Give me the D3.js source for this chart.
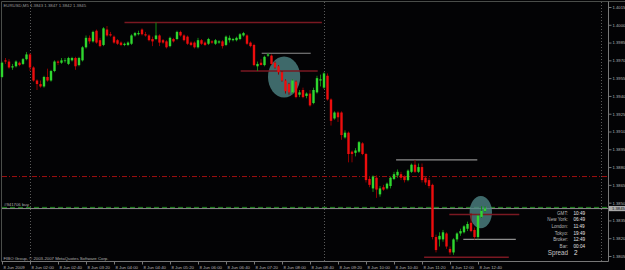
<!DOCTYPE html>
<html>
  <head>
    <style>
      body { margin: 0; background: #000; }
      svg { display: block; }
      text { font-family: "Liberation Sans", Arial, sans-serif; }
    </style>
  </head>

  <body>

    <svg class="surface" width="625" height="270"></svg>

    <script src="https://cdn.jsdelivr.net/npm/d3@7/dist/d3.min.js" charset="utf-8"></script>
    <script>

      // EURUSD M5, 8 Jun 2009, bars from 01:20
      const opens = [
        1.3956,1.3970,1.3969,1.3964,1.3965,1.3968,1.3967,1.3971,1.3975,1.3964,
        1.3953,1.3950,1.3948,1.3956,1.3953,1.3961,1.3969,1.3968,1.3970,1.3967,
        1.3970,1.3972,1.3966,1.3970,1.3981,1.3989,1.3986,1.3995,1.3987,1.3983,
        1.3996,1.3992,1.3990,1.3987,1.3985,1.3983,1.3983,1.3984,1.3991,1.3992,
        1.3996,1.3992,1.3991,1.3988,1.3988,1.3991,1.3987,1.3986,1.3982,1.3988,
        1.3988,1.3994,1.3991,1.3990,1.3985,1.3985,1.3981,1.3987,1.3985,1.3984,
        1.3986,1.3984,1.3985,1.3986,1.3983,1.3987,1.3987,1.3987,1.3988,1.3991,
        1.3991,1.3985,1.3983,1.3965,1.3968,1.3966,1.3974,1.3974,1.3968,1.3965,
        1.3960,1.3953,1.3950,1.3943,1.3952,1.3941,1.3945,1.3940,1.3942,1.3934,
        1.3943,1.3953,1.3947,1.3957,1.3937,1.3921,1.3926,1.3926,1.3905,1.3909,
        1.3893,1.3892,1.3893,1.3900,1.3891,1.3870,1.3862,1.3871,1.3857,1.3863,
        1.3862,1.3864,1.3870,1.3873,1.3874,1.3872,1.3869,1.3876,1.3882,1.3876,
        1.3880,1.3871,1.3869,1.3865,1.3821,1.3819,1.3819,1.3824,1.3811,1.3808,
        1.3819,1.3824,1.3825,1.3828,1.3833,1.3827,1.3821,1.3838,1.3843
      ]
      const highs = [
        1.3969,1.3972,1.3971,1.3967,1.3970,1.3969,1.3972,1.3977,1.3976,1.3965,
        1.3954,1.3953,1.3957,1.3963,1.3962,1.3970,1.3970,1.3972,1.3972,1.3973,
        1.3973,1.3973,1.3973,1.3982,1.3991,1.3991,1.3995,1.3996,1.3989,1.3998,
        1.3999,1.3994,1.3991,1.3988,1.3986,1.3985,1.3986,1.3992,1.3994,1.3995,
        1.3997,1.3994,1.3992,1.3990,1.4002,1.3992,1.3988,1.3987,1.3990,1.3989,
        1.3995,1.3995,1.3992,1.3991,1.3986,1.3986,1.3989,1.3988,1.3986,1.3989,
        1.3987,1.3988,1.3987,1.3987,1.3991,1.3991,1.3989,1.3990,1.3993,1.3994,
        1.3992,1.3986,1.3984,1.3969,1.3971,1.3974,1.3976,1.3975,1.3969,1.3966,
        1.3961,1.3954,1.3951,1.3954,1.3953,1.3945,1.3947,1.3943,1.3945,1.3947,
        1.3957,1.3958,1.3960,1.3959,1.3938,1.3927,1.3927,1.3927,1.3911,1.3910,
        1.3894,1.3896,1.3902,1.3901,1.3892,1.3872,1.3873,1.3873,1.3864,1.3865,
        1.3867,1.3872,1.3876,1.3878,1.3876,1.3873,1.3878,1.3883,1.3886,1.3883,
        1.3883,1.3872,1.3871,1.3866,1.3823,1.3825,1.3827,1.3825,1.3813,1.3820,
        1.3825,1.3828,1.3831,1.3834,1.3841,1.3829,1.3840,1.3847,1.3847
      ]
      const lows = [
        1.3955,1.3967,1.3963,1.3962,1.3964,1.3965,1.3966,1.3970,1.3961,1.3952,
        1.3945,1.3947,1.3947,1.3952,1.3952,1.3960,1.3966,1.3967,1.3968,1.3966,
        1.3969,1.3962,1.3965,1.3969,1.3980,1.3984,1.3985,1.3984,1.3981,1.3982,
        1.3990,1.3990,1.3984,1.3983,1.3982,1.3982,1.3982,1.3983,1.3990,1.3991,
        1.3991,1.3990,1.3986,1.3982,1.3987,1.3982,1.3984,1.3980,1.3981,1.3985,
        1.3987,1.3990,1.3986,1.3983,1.3982,1.3980,1.3980,1.3983,1.3982,1.3983,
        1.3984,1.3983,1.3984,1.3980,1.3982,1.3985,1.3986,1.3986,1.3987,1.3990,
        1.3983,1.3981,1.3965,1.3961,1.3966,1.3965,1.3973,1.3966,1.3963,1.3958,
        1.3952,1.3942,1.3941,1.3942,1.3938,1.3939,1.3938,1.3938,1.3931,1.3933,
        1.3942,1.3948,1.3946,1.3936,1.3915,1.3920,1.3918,1.3903,1.3904,1.3884,
        1.3884,1.3889,1.3892,1.3890,1.3867,1.3863,1.3859,1.3854,1.3855,1.3860,
        1.3861,1.3862,1.3869,1.3871,1.3869,1.3867,1.3868,1.3875,1.3875,1.3875,
        1.3867,1.3865,1.3862,1.3819,1.3808,1.3813,1.3817,1.3811,1.3806,1.3806,
        1.3817,1.3822,1.3824,1.3826,1.3825,1.3819,1.3819,1.3837,1.3842
      ]
      const closes = [
        1.3968,1.3969,1.3964,1.3965,1.3969,1.3966,1.3971,1.3975,1.3964,1.3953,
        1.3950,1.3948,1.3956,1.3953,1.3961,1.3969,1.3968,1.3970,1.3970,1.3972,
        1.3972,1.3965,1.3972,1.3981,1.3989,1.3986,1.3994,1.3985,1.3982,1.3997,
        1.3991,1.3991,1.3985,1.3984,1.3983,1.3984,1.3985,1.3991,1.3993,1.3993,
        1.3992,1.3991,1.3987,1.3986,1.3991,1.3985,1.3985,1.3981,1.3989,1.3986,
        1.3994,1.3991,1.3987,1.3984,1.3983,1.3981,1.3987,1.3984,1.3983,1.3988,
        1.3985,1.3987,1.3986,1.3982,1.3990,1.3989,1.3988,1.3989,1.3992,1.3993,
        1.3984,1.3982,1.3966,1.3967,1.3966,1.3973,1.3975,1.3967,1.3964,1.3960,
        1.3953,1.3944,1.3943,1.3953,1.3939,1.3943,1.3939,1.3942,1.3932,1.3945,
        1.3955,1.3954,1.3959,1.3937,1.3919,1.3926,1.3922,1.3907,1.3909,1.3891,
        1.3891,1.3894,1.3901,1.3891,1.3869,1.3865,1.3872,1.3861,1.3862,1.3861,
        1.3866,1.3871,1.3874,1.3876,1.3871,1.3869,1.3877,1.3882,1.3876,1.3880,
        1.3869,1.3867,1.3864,1.3821,1.3810,1.3822,1.3825,1.3813,1.3808,1.3819,
        1.3824,1.3826,1.3830,1.3832,1.3826,1.3821,1.3839,1.3843,1.3845
      ]

      const priceTicks = d3.range(15).map(k => +(1.4015 - k * 0.0015).toFixed(4))
      const timeTicks = ['01:20', '02:00', '02:40', '03:20', '04:00', '04:40', '05:20', '06:00', '06:40',
                         '07:20', '08:00', '08:40', '09:20', '10:00', '10:40', '11:20', '12:00', '12:40']
      const separators = ['02:00', '09:00', '15:35']

      // drawn objects
      const levelPrices = [1.4002, 1.3976, 1.3961, 1.3886, 1.3840, 1.3819, 1.3804]
      const levelFrom   = ['04:15', '07:31', '07:01', '10:43', '11:59', '12:19', '11:23']
      const levelTo     = ['08:57', '08:41', '08:51', '12:39', '13:39', '13:34', '13:24']
      const levelKind   = ['red', 'gray', 'red', 'gray', 'red', 'gray', 'red']
      const markTimes   = ['08:03', '12:44']
      const markPrices  = [1.3956, 1.3842]
      const markMinutes = [23, 16]
      const markPips    = [0.00173, 0.00135]

      const alertPrice = 1.3872
      const orderPrice = 1.3846
      const bidPrice = 1.3845
      const orderLabel = '#941706 buy'
      const title = 'EURUSD,M5  1.3843 1.3847 1.3842 1.3845'
      const copyright = 'FIBO Group, \u00a9 2003-2007 MetaQuotes Software Corp.'

      const clockLabels = ['GMT:', 'New York:', 'London:', 'Tokyo:', 'Broker:', 'Bar:']
      const clockValues = ['10:49', '06:49', '11:49', '19:49', '12:49', '00:04']
      const spreadValue = '2'

      const t = s => {
        const [h, m] = s.split(':').map(Number)
        return new Date(2009, 5, 8, h, m)
      }
      const t0 = t('01:20')
      const bars = opens.map((o, i) => ({
        time: d3.timeMinute.offset(t0, 5 * i), o, h: highs[i], l: lows[i], c: closes[i]
      }))

      const x = d3.scaleTime()
        .domain([t0, bars[bars.length - 1].time])
        .range([2, 2 + 3.5 * (bars.length - 1)])
      const y = d3.scaleLinear().domain([1.4015, 1.3805]).range([7, 256])

      const surface = d3.select('.surface')
      surface.append('rect').attr('width', 625).attr('height', 270).attr('fill', '#030305')

      // frame
      surface.append('line').attr('x1', 1.5).attr('x2', 625).attr('y1', 1.5).attr('y2', 1.5)
        .attr('stroke', '#4a4d4a')
      surface.append('line').attr('x1', 1.5).attr('x2', 1.5).attr('y1', 1.5).attr('y2', 261.5)
        .attr('stroke', '#4a4d4a')

      // separators
      surface.selectAll('.sep').data(separators).enter()
        .append('line')
          .attr('class', 'sep')
          .attr('x1', d => Math.round(x(t(d))) + 0.5)
          .attr('x2', d => Math.round(x(t(d))) + 0.5)
          .attr('y1', 2).attr('y2', 261)
          .attr('stroke', '#5a5a5a')
          .attr('stroke-dasharray', '1,2')

      // alert / order / bid lines
      surface.append('line')
        .attr('x1', 2).attr('x2', 608)
        .attr('y1', y(alertPrice)).attr('y2', y(alertPrice))
        .attr('stroke', '#a01010').attr('stroke-dasharray', '5,2,1,2')
      surface.append('line')
        .attr('x1', 2).attr('x2', 608)
        .attr('y1', y(orderPrice)).attr('y2', y(orderPrice))
        .attr('stroke', '#1f8a1f').attr('stroke-dasharray', '5,3')
      surface.append('line')
        .attr('x1', 2).attr('x2', 608)
        .attr('y1', y(bidPrice)).attr('y2', y(bidPrice))
        .attr('stroke', '#8c8c8c')
      surface.append('text')
        .attr('x', 4).attr('y', y(orderPrice) - 1.5)
        .attr('font-size', 4.3).attr('fill', '#b0b0b0')
        .text(orderLabel)

      // highlight ellipses
      surface.selectAll('.mark').data(markTimes).enter()
        .append('ellipse')
          .attr('class', 'mark')
          .attr('cx', d => x(t(d)))
          .attr('cy', (d, i) => y(markPrices[i]))
          .attr('rx', (d, i) => x(d3.timeMinute.offset(t(d), markMinutes[i])) - x(t(d)))
          .attr('ry', (d, i) => y(markPrices[i] - markPips[i]) - y(markPrices[i]))
          .attr('fill', '#4f8787')
          .attr('opacity', 0.78)

      // level segments
      surface.selectAll('.level').data(levelPrices).enter()
        .append('line')
          .attr('class', 'level')
          .attr('x1', (d, i) => x(t(levelFrom[i])))
          .attr('x2', (d, i) => x(t(levelTo[i])))
          .attr('y1', d => y(d))
          .attr('y2', d => y(d))
          .attr('stroke', (d, i) => levelKind[i] === 'red' ? '#7a1822' : '#8e8e8e')
          .attr('stroke-width', (d, i) => levelKind[i] === 'red' ? 1.5 : 1.2)

      // candles
      const candles = surface.selectAll('.candle').data(bars).enter()
        .append('g').attr('class', 'candle')

      candles.append('line')
        .attr('x1', d => x(d.time)).attr('x2', d => x(d.time))
        .attr('y1', d => y(d.h)).attr('y2', d => y(d.l))
        .attr('stroke', d => d.c >= d.o ? '#128a12' : '#8e0000')
        .attr('stroke-width', 1)

      candles.append('rect')
        .attr('x', d => x(d.time) - 1.2)
        .attr('width', 2.4)
        .attr('y', d => y(Math.max(d.o, d.c)))
        .attr('height', d => Math.max(0.8, Math.abs(y(d.o) - y(d.c))))
        .attr('fill', d => d.c >= d.o ? '#2fd62f' : '#ec0d0d')

      // right price axis
      const yAxis = surface.append('g')
        .attr('transform', 'translate(608.5,0)')
        .call(d3.axisRight(y).tickValues(priceTicks).tickSize(3).tickPadding(1).tickFormat(d3.format('.4f')))
      yAxis.select('.domain').attr('stroke', '#777').attr('d', 'M0,1.5V261.5')
      yAxis.selectAll('.tick line').attr('stroke', '#777')
      yAxis.selectAll('.tick text').attr('fill', '#b4b4b4').attr('font-size', 4.2)
        .attr('font-family', '"Liberation Sans", Arial, sans-serif')

      // current price tag
      surface.append('rect')
        .attr('x', 609).attr('y', y(bidPrice) - 2.6)
        .attr('width', 16).attr('height', 5.2)
        .attr('fill', '#a9a9a9')
      surface.append('text')
        .attr('x', 612).attr('y', y(bidPrice) + 1.5)
        .attr('font-size', 4.2).attr('fill', '#111')
        .text(d3.format('.4f')(bidPrice))

      // bottom time axis
      const xAxis = surface.append('g')
        .attr('transform', 'translate(0,261.5)')
        .call(d3.axisBottom(x).tickValues(timeTicks.map(t)).tickSize(3).tickPadding(1)
          .tickFormat((d, i) => i === 0 ? '8 Jun 2009' : '8 Jun ' + d3.timeFormat('%H:%M')(d)))
      xAxis.select('.domain').attr('stroke', '#777').attr('d', 'M1.5,0H608.5')
      xAxis.selectAll('.tick line').attr('stroke', '#777')
      xAxis.selectAll('.tick text')
        .attr('fill', '#b4b4b4').attr('font-size', 4.3)
        .attr('font-family', '"Liberation Sans", Arial, sans-serif')
        .attr('text-anchor', 'start').attr('x', 1).attr('dy', '0.9em')

      // texts
      surface.append('text')
        .attr('x', 3.5).attr('y', 6.5)
        .attr('font-size', 4.3).attr('fill', '#9a9a9a')
        .text(title)
      surface.append('text')
        .attr('x', 3.5).attr('y', 260)
        .attr('font-size', 4.3).attr('fill', '#b0b0b0')
        .text(copyright)

      // clock panel
      const panel = surface.append('g')
      clockLabels.forEach((label, i) => {
        panel.append('text')
          .attr('x', 568).attr('y', 214.8 + i * 6.6)
          .attr('text-anchor', 'end')
          .attr('font-size', 4.6).attr('fill', '#b8b8b8')
          .text(label)
        panel.append('text')
          .attr('x', 573.5).attr('y', 214.8 + i * 6.6)
          .attr('font-size', 4.6).attr('fill', '#e6e6e6')
          .text(clockValues[i])
      })
      panel.append('text')
        .attr('x', 568).attr('y', 254.5)
        .attr('text-anchor', 'end')
        .attr('font-size', 6.3).attr('fill', '#c4c4c4')
        .text('Spread')
      panel.append('text')
        .attr('x', 574).attr('y', 254.5)
        .attr('font-size', 6.3).attr('fill', '#e6e6e6')
        .text(spreadValue)

    </script>
  </body>

</html>
